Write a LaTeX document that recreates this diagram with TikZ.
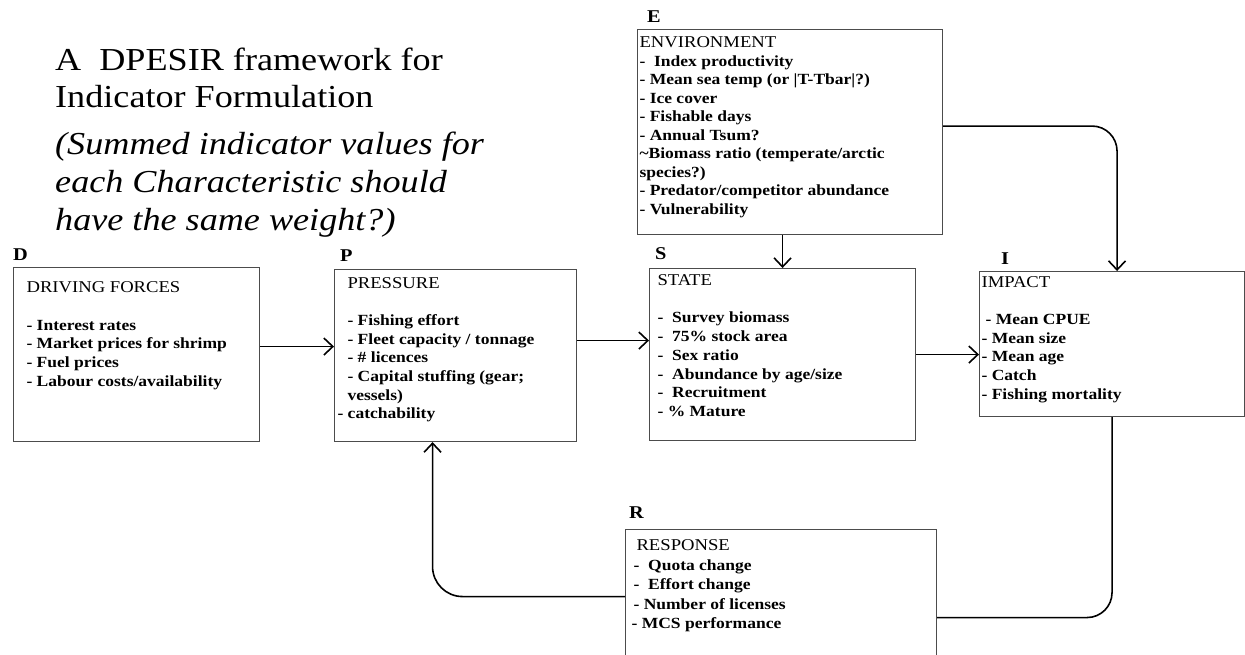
\documentclass[tikz,border=0pt]{standalone}
\usepackage{fontspec}
\setmainfont{Liberation Serif}[FakeStretch=1.13]
\usetikzlibrary{positioning, arrows.meta}

\tikzstyle{panel} = [
  draw=black!70,
  line width=1.1pt,
  anchor=north west,
  inner sep=0pt
]
\tikzstyle{tag} = [
  inner sep=0pt,
  font=\bfseries\fontsize{18}{20}\selectfont
]
\tikzstyle{arrow} = [line width=1.6pt,-{Straight Barb[length=9pt,width=17pt]}]
\tikzstyle{link} = [line width=1.6pt]

% heading line in a box
\newcommand{\hd}[1]{{\mdseries\fontsize{16.5}{18}\selectfont #1}}
% width, height, indent, first baseline, line skip, lines
\newcommand{\boxlines}[6]{\parbox[t][#2][t]{#1}{\fontsize{15.5}{#5}\selectfont\bfseries\raggedright\leftskip=#3\rule{0pt}{#4}#6}}

\begin{document}
\begin{tikzpicture}[x=1pt, y=-1pt]
    \clip (0,0) rectangle (1245,654);
    \fill[white] (0,0) rectangle (1245,654);

    % Titulo
    \node (title) [anchor=north west, inner sep=0pt] at (55,43) {\parbox[t]{470pt}{\fontsize{32}{37}\selectfont\rule{0pt}{27pt}A\ \ DPESIR framework for\\Indicator Formulation}};
    \node (note) [anchor=north west, inner sep=0pt] at (55,127) {\parbox[t]{470pt}{\fontsize{32}{38}\selectfont\itshape\rule{0pt}{27pt}(Summed indicator values for\\each Characteristic should\\have the same weight?)}};

    % Cajas
    \node (d) [panel] at (13,267) {\boxlines{246pt}{174pt}{13pt}{25pt}{18.8pt}{\hd{DRIVING FORCES}\\ \mbox{}\\- Interest rates\\- Market prices for shrimp\\- Fuel prices\\- Labour costs/availability}};
    \node (p) [panel] at (334,269) {\boxlines{242pt}{172pt}{13pt}{19pt}{18.6pt}{\hd{PRESSURE}\\ \mbox{}\\- Fishing effort\\- Fleet capacity / tonnage\\- \# licences\\- Capital stuffing (gear;\\vessels)\\\hspace*{-10pt}- catchability}};
    \node (s) [panel] at (649,268) {\boxlines{266pt}{172pt}{8pt}{17pt}{18.7pt}{\hd{STATE}\\ \mbox{}\\-\ \ Survey biomass\\-\ \ 75\% stock area\\-\ \ Sex ratio\\-\ \ Abundance by age/size\\-\ \ Recruitment\\- \% Mature}};
    \node (i) [panel] at (979,271) {\boxlines{265pt}{145pt}{2pt}{16pt}{18.6pt}{\hd{IMPACT}\\ \mbox{}\\\hspace*{4pt}- Mean CPUE\\- Mean size\\- Mean age\\- Catch\\- Fishing mortality}};
    \node (e) [panel] at (637,29) {\boxlines{305pt}{205pt}{2pt}{18pt}{18.5pt}{\hd{ENVIRONMENT}\\-\ \ Index productivity\\- Mean sea temp (or |T-Tbar|?)\\- Ice cover\\- Fishable days\\- Annual Tsum?\\\textasciitilde Biomass ratio (temperate/arctic\\species?)\\- Predator/competitor abundance\\- Vulnerability}};
    \node (r) [panel] at (625,529) {\boxlines{311pt}{160pt}{8pt}{21pt}{19.5pt}{\hspace*{3pt}\hd{RESPONSE}\\-\ \ Quota change\\-\ \ Effort change\\- Number of licenses\\\hspace*{-2pt}- MCS performance}};

    % Letras
    \node (dtag) [tag, above right=6pt and 0pt of d.north west] {D};
    \node (ptag) [tag, above right=7pt and 6pt of p.north west] {P};
    \node (stag) [tag, above right=8pt and 6pt of s.north west] {S};
    \node (itag) [tag, above right=6pt and 22pt of i.north west] {I};
    \node (etag) [tag, above right=6pt and 10pt of e.north west] {E};
    \node (rtag) [tag, above right=10pt and 4pt of r.north west] {R};

    % Flechas
    \draw [arrow] ([yshift=8pt]d.east) -- ([yshift=8pt]d.east -| p.west);
    \draw [arrow] ([yshift=15pt]p.east) -- ([yshift=15pt]p.east -| s.west);
    \draw [arrow] (s.east) -- (s.east -| i.west);
    \draw [arrow] (e.south -| s.north) -- (s.north);
    \draw [arrow, rounded corners=25pt] ([yshift=6pt]e.east) -| ([xshift=5pt]i.north);
    \draw [link, rounded corners=25pt] (i.south) |- ([yshift=-8pt]r.east);
    \draw [arrow, rounded corners=30pt] ([yshift=13pt]r.west) -| ([xshift=-23pt]p.south);

\end{tikzpicture}
\end{document}
